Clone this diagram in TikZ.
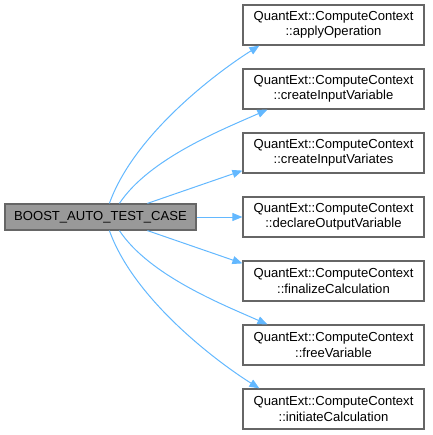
\documentclass[tikz,border=0pt]{standalone}
\usepackage{fontspec}
\setmainfont{Liberation Sans}
\usetikzlibrary{arrows.meta, calc}
\definecolor{edgeblue}{HTML}{63B8FF}
\definecolor{boxgray}{HTML}{666666}

\begin{document}
\begin{tikzpicture}[
  x=0.75pt, y=-0.75pt,
  fn/.style={draw=boxgray, line width=0.9pt, fill=white, align=center,
             minimum width=135.75pt, minimum height=30pt, inner sep=0pt,
             font=\fontsize{9.8}{11.5}\selectfont},
  cur/.style={fn, fill=black!40, minimum width=143.25pt, minimum height=19.5pt},
  call/.style={-{Triangle[length=7.5pt,width=6pt]}, draw=edgeblue, line width=0.75pt}
]
  \useasboundingbox (0,0) rectangle (432,435);
  \node[cur] (test) at (100.5, 217) {BOOST\_AUTO\_TEST\_CASE};
  \node[fn] (apply) at (333.5, 25)  {QuantExt::ComputeContext\\::applyOperation};
  \node[fn] (createvar) at (333.5, 89)  {QuantExt::ComputeContext\\::createInputVariable};
  \node[fn] (createvariates) at (333.5, 153) {QuantExt::ComputeContext\\::createInputVariates};
  \node[fn] (declare) at (333.5, 217) {QuantExt::ComputeContext\\::declareOutputVariable};
  \node[fn] (finalize) at (333.5, 281) {QuantExt::ComputeContext\\::finalizeCalculation};
  \node[fn] (freevar) at (333.5, 345) {QuantExt::ComputeContext\\::freeVariable};
  \node[fn] (initiate) at (333.5, 409) {QuantExt::ComputeContext\\::initiateCalculation};
  % calls going up
  \draw[call] ($(test.north west)+(105,0)$) .. controls +(25,-70) and +(-40,25) .. ($(apply.south west)+(17,0)$);
  \draw[call] ($(test.north west)+(115,0)$) .. controls +(30,-45) and +(-45,20) .. ($(createvar.south west)+(25,0)$);
  \draw[call] ($(test.north west)+(143,0)$) -- ($(createvariates.south west)+(0,-3)$);
  \draw[call] (test.east) -- (declare.west);
  % calls going down
  \draw[call] ($(test.south west)+(143,0)$) -- ($(finalize.north west)+(0,3)$);
  \draw[call] ($(test.south west)+(115,0)$) .. controls +(30,45) and +(-45,-20) .. ($(freevar.north west)+(25,0)$);
  \draw[call] ($(test.south west)+(105,0)$) .. controls +(25,70) and +(-40,-25) .. ($(initiate.north west)+(17,0)$);
\end{tikzpicture}
\end{document}
